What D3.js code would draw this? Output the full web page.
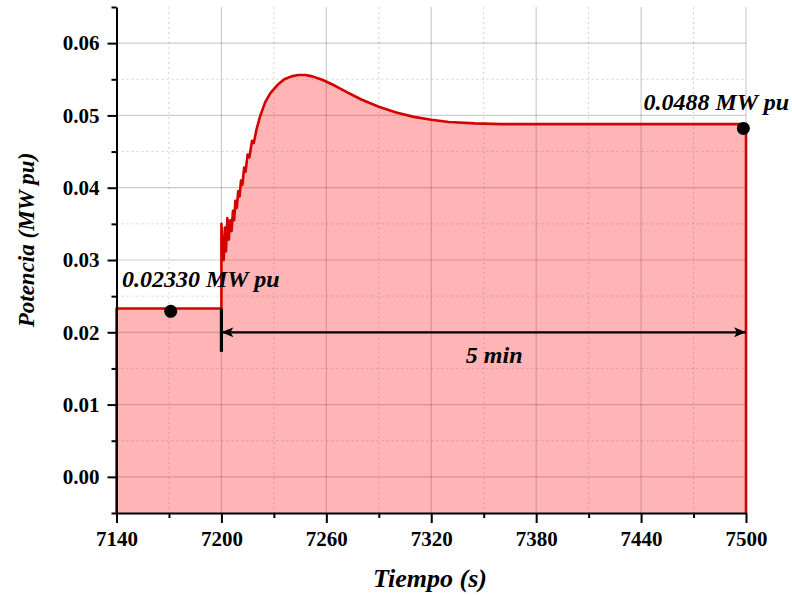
<!DOCTYPE html>
<html>
<head>
<meta charset="utf-8">
<script src="https://cdn.jsdelivr.net/npm/d3@7"></script>
<style>
  body { margin: 0; background: #fff; }
  svg { display: block; font-family: "Liberation Serif", "Times New Roman", serif; }
  svg text { font-family: "Liberation Serif", "Times New Roman", serif; font-weight: bold; fill: #000; }
</style>
</head>
<body>
<svg width="792" height="596"></svg>
<script>
// serie temporale della potenza (s, MW pu)
const tiempo = [7140, 7200, 7200, 7200.8, 7201.3, 7202, 7202.6, 7203.4, 7204.2, 7205, 7205.8, 7206.6,
  7207.3, 7208, 7208.8, 7209.6, 7210.4, 7211.2, 7212, 7213, 7213.8, 7215, 7216, 7217.5, 7218.5,
  7220, 7222, 7225, 7228, 7232, 7236, 7240, 7244, 7248, 7252, 7258, 7265, 7272, 7280, 7290,
  7300, 7310, 7320, 7330, 7345, 7360, 7500];
const potencia = [0.0233, 0.0233, 0.0350, 0.0305, 0.0300, 0.0345, 0.0312, 0.0358, 0.0328, 0.0355, 0.0340, 0.0368,
  0.0355, 0.0382, 0.0372, 0.0395, 0.0388, 0.0410, 0.0404, 0.0428, 0.0422, 0.0446, 0.0442, 0.0465, 0.0462,
  0.0480, 0.0498, 0.0518, 0.0531, 0.0542, 0.0550, 0.0554, 0.0556, 0.0556, 0.0554, 0.0549, 0.0541, 0.0532, 0.0522, 0.0512,
  0.0504, 0.0498, 0.0494, 0.0491, 0.0489, 0.0488, 0.0488];

const xTicks = [7140, 7200, 7260, 7320, 7380, 7440, 7500];
const xMinor = [7170, 7230, 7290, 7350, 7410, 7470];
const yTicks = [0.00, 0.01, 0.02, 0.03, 0.04, 0.05, 0.06];
const yMinor = [-0.005, 0.005, 0.015, 0.025, 0.035, 0.045, 0.055, 0.065];

// punti annotati
const puntiX = [7171, 7498.5];
const puntiY = [0.0229, 0.0482];
const etichette = ["0.02330 MW pu", "0.0488 MW pu"];
const inicioEvento = 7200;
const finEvento = 7500;
const nivelFlecha = 0.02;

const svg = d3.select("svg");
const mLeft = 116.5, mTop = 7, mRight = 746, mBottom = 513;

const x = d3.scaleLinear().domain([7140, 7500]).range([mLeft, mRight]);
const y = d3.scaleLinear().domain([-0.005, 0.065]).range([mBottom, mTop]);

const serie = tiempo.map((t, i) => ({ t: t, p: potencia[i] }));

// griglia
const grid = svg.append("g");
grid.selectAll(".gx").data(xTicks.slice(1)).join("line")
  .attr("x1", d => x(d)).attr("x2", d => x(d)).attr("y1", mTop).attr("y2", mBottom)
  .attr("stroke", "#000").attr("stroke-opacity", 0.2).attr("stroke-width", 1.2);
grid.selectAll(".gxm").data(xMinor).join("line")
  .attr("x1", d => x(d)).attr("x2", d => x(d)).attr("y1", mTop).attr("y2", mBottom)
  .attr("stroke", "#000").attr("stroke-opacity", 0.18).attr("stroke-dasharray", "2,3");
grid.selectAll(".gy").data(yTicks).join("line")
  .attr("x1", mLeft).attr("x2", mRight).attr("y1", d => y(d)).attr("y2", d => y(d))
  .attr("stroke", "#000").attr("stroke-opacity", 0.2).attr("stroke-width", 1.2);
grid.selectAll(".gym").data(yMinor.filter(v => v > -0.005 && v < 0.065)).join("line")
  .attr("x1", mLeft).attr("x2", mRight).attr("y1", d => y(d)).attr("y2", d => y(d))
  .attr("stroke", "#000").attr("stroke-opacity", 0.18).attr("stroke-dasharray", "2,3");

// area sotto la curva
const area = d3.area().x(d => x(d.t)).y0(mBottom).y1(d => y(d.p));
svg.append("path").datum(serie)
  .attr("d", area)
  .attr("fill", "#ff0000").attr("fill-opacity", 0.29);

// contorno rosso: bordo sinistro, curva, bordo destro
const contorno = [{ t: tiempo[0], p: -0.005 }].concat(serie, [{ t: tiempo[tiempo.length - 1], p: -0.005 }]);
const line = d3.line().x(d => x(d.t)).y(d => y(d.p));
svg.append("path").datum(contorno)
  .attr("d", line)
  .attr("fill", "none").attr("stroke", "#d40000").attr("stroke-width", 2.6)
  .attr("stroke-linejoin", "round");

// assi
const tickFont = g => g.selectAll("text")
  .style("font-size", "21px").style("font-weight", "bold")
  .style("font-family", "'Liberation Serif', 'Times New Roman', serif");

svg.append("g").attr("transform", `translate(${mLeft},0)`)
  .call(d3.axisLeft(y).tickValues(yTicks).tickFormat(d3.format(".2f")).tickSize(9).tickPadding(8).tickSizeOuter(0))
  .call(tickFont);
svg.append("g").attr("transform", `translate(${mLeft},0)`)
  .call(d3.axisLeft(y).tickValues(yMinor).tickFormat("").tickSize(5).tickSizeOuter(0))
  .call(g => g.select(".domain").remove());

svg.append("g").attr("transform", `translate(0,${mBottom})`)
  .call(d3.axisBottom(x).tickValues(xTicks).tickFormat(d3.format("d")).tickSize(10).tickPadding(8).tickSizeOuter(0))
  .call(tickFont);
svg.append("g").attr("transform", `translate(0,${mBottom})`)
  .call(d3.axisBottom(x).tickValues(xMinor).tickFormat("").tickSize(5).tickSizeOuter(0))
  .call(g => g.select(".domain").remove());

svg.selectAll(".domain").attr("stroke-width", 2).attr("stroke", "#000");
svg.selectAll(".tick line").attr("stroke-width", 2).attr("stroke", "#000");

// titoli degli assi
svg.append("text")
  .attr("x", 430).attr("y", 587)
  .attr("text-anchor", "middle")
  .style("font-size", "26px").style("font-style", "italic")
  .text("Tiempo (s)");

svg.append("text")
  .attr("transform", "translate(34,240) rotate(-90)")
  .attr("text-anchor", "middle")
  .style("font-size", "23px").style("font-style", "italic")
  .text("Potencia (MW pu)");

// freccia dei 5 minuti
const defs = svg.append("defs");
defs.append("marker").attr("id", "head").attr("viewBox", "0 0 12 10")
  .attr("refX", 12).attr("refY", 5).attr("markerWidth", 12).attr("markerHeight", 10)
  .attr("markerUnits", "userSpaceOnUse").attr("orient", "auto-start-reverse")
  .append("path").attr("d", "M0,0 L12,5 L0,10 L3,5 Z").attr("fill", "#000");

svg.append("line")
  .attr("x1", x(inicioEvento)).attr("x2", x(finEvento))
  .attr("y1", y(nivelFlecha)).attr("y2", y(nivelFlecha))
  .attr("stroke", "#000").attr("stroke-width", 2.2)
  .attr("marker-start", "url(#head)").attr("marker-end", "url(#head)");

svg.append("line")
  .attr("x1", x(inicioEvento)).attr("x2", x(inicioEvento))
  .attr("y1", y(potencia[1])).attr("y2", y(0.0173))
  .attr("stroke", "#000").attr("stroke-width", 3.2);

svg.append("text")
  .attr("x", x(7356)).attr("y", 363)
  .attr("text-anchor", "middle")
  .style("font-size", "24px").style("font-style", "italic")
  .text("5 min");

// punti e etichette
svg.selectAll(".punto").data(puntiX).join("circle")
  .attr("cx", d => x(d)).attr("cy", (d, i) => y(puntiY[i]))
  .attr("r", 6.5).attr("fill", "#000");

svg.append("text")
  .attr("x", 122).attr("y", 287)
  .style("font-size", "24px").style("font-style", "italic")
  .text(etichette[0]);
svg.append("text")
  .attr("x", 789).attr("y", 110).attr("text-anchor", "end")
  .style("font-size", "24px").style("font-style", "italic")
  .text(etichette[1]);
</script>
</body>
</html>
